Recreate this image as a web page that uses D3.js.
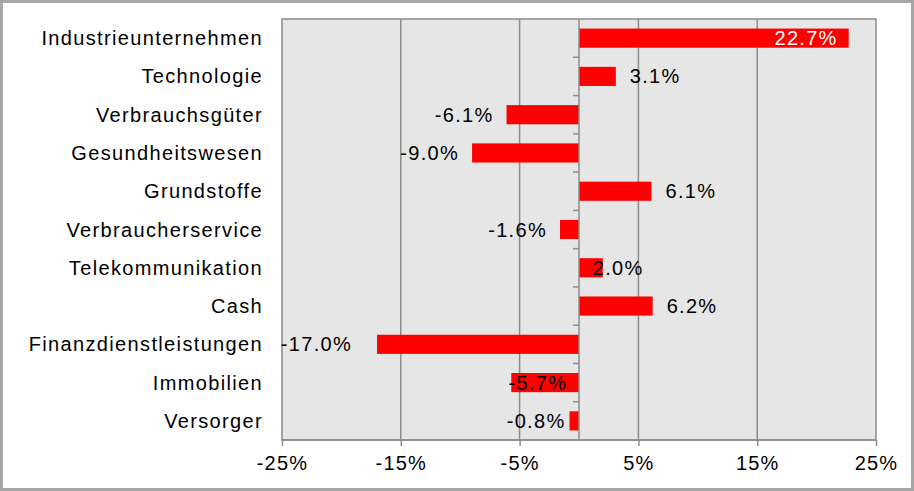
<!DOCTYPE html>
<html lang="de">
  <head>
    <meta charset="UTF-8"/>
    <title>Sektoren</title>
    <script src="https://d3js.org/d3.v7.min.js"></script>
    <style>
        html, body {
          margin: 0;
          padding: 0;
          background: #fff;
        }
        svg {
          display: block;
          font-family: "Liberation Sans", Arial, sans-serif;
        }
        .frame {
          fill: #fff;
          stroke: #a6a6a6;
          stroke-width: 3;
        }
        .plot-bg {
          fill: #e6e6e6;
          stroke: #8c8c8c;
          stroke-width: 1.5;
        }
        .grid line {
          stroke: #8c8c8c;
          stroke-width: 1.5;
        }
        .axis path,
        .axis line {
          fill: none;
          stroke: #8c8c8c;
          stroke-width: 1.5;
        }
        .axis text {
          font-size: 20px;
          letter-spacing: 1.2px;
          fill: #000;
        }
        .bar {
          fill: #ff0000;
        }
        .value {
          font-size: 20px;
          letter-spacing: 1.3px;
          fill: #000;
        }
        .cat {
          font-size: 20px;
          letter-spacing: 1.35px;
          fill: #000;
        }
    </style>
  </head>
  <body>
    <script>
        // data
        const sectors = [
          "Industrieunternehmen", "Technologie", "Verbrauchsgüter", "Gesundheitswesen",
          "Grundstoffe", "Verbraucherservice", "Telekommunikation", "Cash",
          "Finanzdienstleistungen", "Immobilien", "Versorger"
        ]
        const weights = [22.7, 3.1, -6.1, -9.0, 6.1, -1.6, 2.0, 6.2, -17.0, -5.7, -0.8]
        const xTicks = [-25, -15, -5, 5, 15, 25]

        // a few labels were moved by hand in the original (px, from outside-end spot)
        const labelShift = [0, 0, 0, 0, 0, 0, -24, 0, -12, 69, 9]

        const outerWidth  = 914,
              outerHeight = 491,
              plot = {left: 282, right: 876, top: 19, bottom: 440}

        const svg = d3.select("body").append("svg")
            .attr("width", outerWidth)
            .attr("height", outerHeight)

        svg.append("rect")
            .attr("class", "frame")
            .attr("x", 1.5)
            .attr("y", 1.5)
            .attr("width", outerWidth - 3)
            .attr("height", outerHeight - 3)

        const x = d3.scaleLinear()
            .domain([-25, 25])
            .range([plot.left, plot.right])

        const y = d3.scaleBand()
            .domain(sectors)
            .range([plot.top, plot.bottom])
            .paddingInner(0.5)
            .paddingOuter(0.25)

        svg.append("rect")
            .attr("class", "plot-bg")
            .attr("x", plot.left)
            .attr("y", plot.top)
            .attr("width", plot.right - plot.left)
            .attr("height", plot.bottom - plot.top)

        // vertical gridlines
        svg.append("g")
            .attr("class", "grid")
          .selectAll("line")
          .data(xTicks.slice(1, -1))
          .join("line")
            .attr("x1", d => x(d))
            .attr("x2", d => x(d))
            .attr("y1", plot.top)
            .attr("y2", plot.bottom)

        // bars
        svg.append("g")
          .selectAll("rect")
          .data(weights)
          .join("rect")
            .attr("class", "bar")
            .attr("x", d => x(Math.min(0, d)))
            .attr("y", (d, i) => y(sectors[i]))
            .attr("width", d => Math.abs(x(d) - x(0)))
            .attr("height", y.bandwidth())

        // category axis sitting on zero, ticks between bands
        const bounds = d3.range(sectors.length + 1).map(i => plot.top + i * (plot.bottom - plot.top) / sectors.length)
        const zeroAxis = svg.append("g").attr("class", "axis")
        zeroAxis.append("line")
            .attr("x1", x(0)).attr("x2", x(0))
            .attr("y1", plot.top).attr("y2", plot.bottom)
        zeroAxis.selectAll("line.tick")
          .data(bounds.slice(1, -1))
          .join("line")
            .attr("class", "tick")
            .attr("x1", x(0) - 6).attr("x2", x(0))
            .attr("y1", d => d).attr("y2", d => d)

        // category names on the left
        svg.append("g")
          .selectAll("text")
          .data(sectors)
          .join("text")
            .attr("class", "cat")
            .attr("x", 263)
            .attr("y", d => y(d) + y.bandwidth() / 2)
            .attr("dy", "0.35em")
            .attr("text-anchor", "end")
            .text(d => d)

        // value labels
        const fmt = d => d.toFixed(1) + "%"
        svg.append("g")
          .selectAll("text")
          .data(weights)
          .join("text")
            .attr("class", "value")
            .attr("x", (d, i) => {
              if (d > 20) return x(d) - 11
              return (d >= 0 ? x(d) + 14 : x(d) - 13) + labelShift[i]
            })
            .attr("y", (d, i) => y(sectors[i]) + y.bandwidth() / 2)
            .attr("dy", "0.35em")
            .attr("text-anchor", d => (d > 20 || d < 0) ? "end" : "start")
            .style("fill", d => d > 20 ? "#fff" : "#000")
            .text(fmt)

        // x axis
        const xAxis = d3.axisBottom(x)
            .tickValues(xTicks)
            .tickSize(6)
            .tickFormat(d => d + "%")

        svg.append("g")
            .attr("class", "x axis")
            .attr("transform", `translate(0, ${plot.bottom})`)
            .call(xAxis)
            .call(g => g.select(".domain").attr("d", `M${plot.left},0H${plot.right}`))
            .selectAll("text")
            .attr("dy", "1.05em")
    </script>
  </body>
</html>
